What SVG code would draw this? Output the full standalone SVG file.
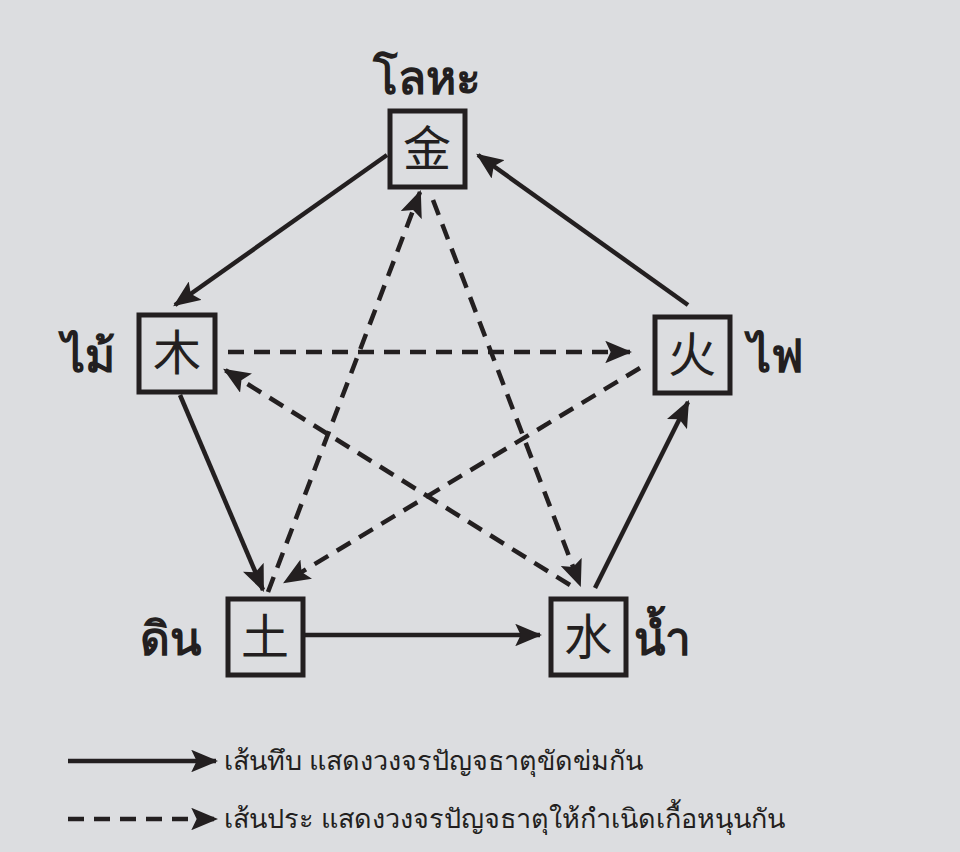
<svg xmlns="http://www.w3.org/2000/svg" width="960" height="852" viewBox="0 0 960 852">
<style>
.bx{fill:none;stroke:#231f20;stroke-width:5}
.ch{font-family:"Noto Sans CJK SC",serif;font-size:48px;fill:#231f20;text-anchor:middle}
.th{font-family:"Noto Sans","DejaVu Sans",sans-serif;font-size:46px;font-weight:bold;fill:#231f20}
.lg{font-family:"Noto Sans","DejaVu Sans",sans-serif;font-size:27px;fill:#231f20}
.s{stroke:#231f20;stroke-width:4.5;fill:none;marker-end:url(#ah)}
.d{stroke-dasharray:16 10}
</style>
<defs><marker id="ah" markerWidth="6" markerHeight="5" refX="5.5" refY="2.5" orient="auto" markerUnits="strokeWidth" viewBox="0 0 6 5"><path d="M0,0 L6,2.5 L0,5 L1.2,2.5 Z" fill="#231f20"/></marker></defs>
<rect width="960" height="852" fill="#dcdde0"/>
<g id="connectors">
<line class="s" x1="387" y1="155" x2="175" y2="305"/>
<line class="s" x1="180" y1="395" x2="263" y2="590"/>
<line class="s" x1="305" y1="635" x2="540" y2="635"/>
<line class="s" x1="595" y1="588" x2="688" y2="402"/>
<line class="s" x1="688" y1="305" x2="478" y2="155"/>
<line class="s d" x1="228" y1="352" x2="630" y2="352"/>
<line class="s d" x1="640" y1="368" x2="285" y2="582"/>
<line class="s d" x1="268" y1="592" x2="420" y2="192"/>
<line class="s d" x1="433" y1="200" x2="580" y2="585"/>
<line class="s d" x1="570" y1="585" x2="225" y2="370"/>
</g>
<g id="metal"><rect class="bx" x="390" y="111" width="75" height="76"/><text class="ch" x="427" y="166">金</text><text class="th" x="427" y="94" text-anchor="middle">โลหะ</text></g>
<g id="wood"><rect class="bx" x="139" y="315" width="76" height="77"/><text class="ch" x="177" y="370">木</text><text class="th" x="115" y="372" text-anchor="end">ไม้</text></g>
<g id="fire"><rect class="bx" x="655" y="317" width="75" height="76"/><text class="ch" x="692" y="372">火</text><text class="th" x="748" y="372">ไฟ</text></g>
<g id="earth"><rect class="bx" x="228" y="599" width="75" height="76"/><text class="ch" x="265" y="654">土</text><text class="th" x="140" y="655">ดิน</text></g>
<g id="water"><rect class="bx" x="551" y="599" width="75" height="76"/><text class="ch" x="588" y="654">水</text><text class="th" x="634" y="655">น้ำ</text></g>
<g id="legend">
<line class="s" x1="68" y1="761" x2="216" y2="761"/>
<line class="s d" x1="68" y1="819" x2="216" y2="819"/>
<text class="lg" x="224" y="770">เส้นทึบ  แสดงวงจรปัญจธาตุขัดข่มกัน</text>
<text class="lg" x="224" y="828">เส้นประ แสดงวงจรปัญจธาตุให้กำเนิดเกื้อหนุนกัน</text>
</g>
</svg>
